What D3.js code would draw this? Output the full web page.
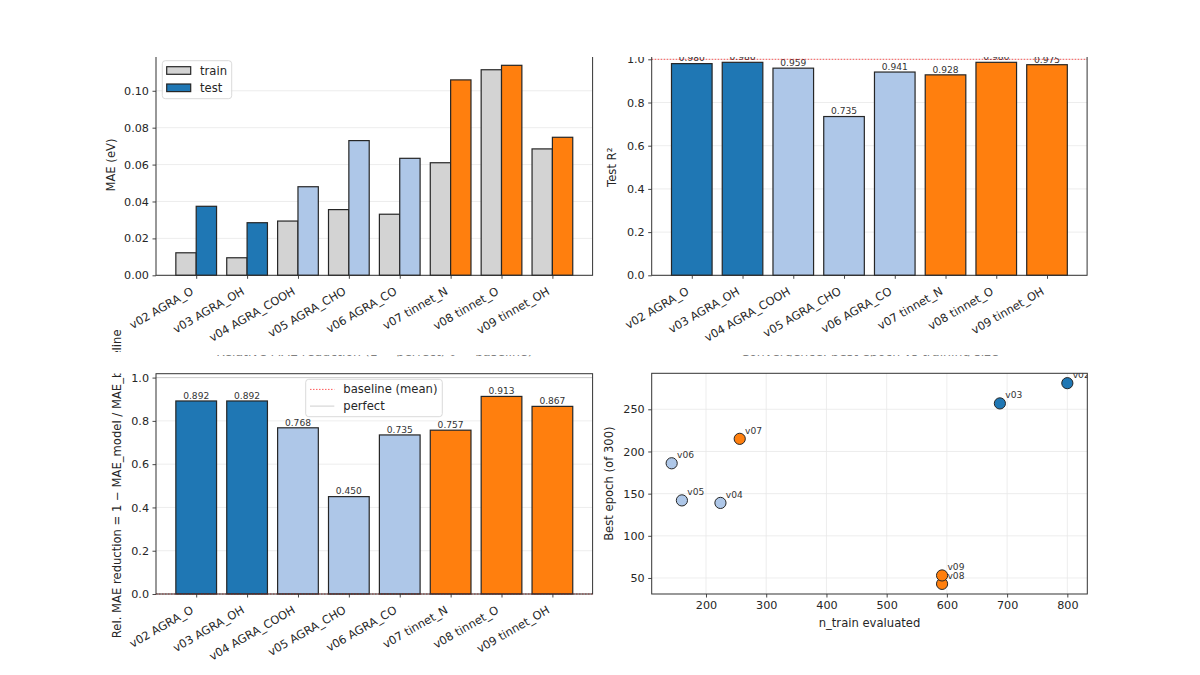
<!DOCTYPE html>
<html>
<head>
<meta charset="utf-8">
<script src="https://cdn.jsdelivr.net/npm/d3@7"></script>
<style>
body{margin:0;background:#fff;}
svg{display:block;}
text{font-family:"DejaVu Sans",sans-serif;}
</style>
</head>
<body>
<div id="fig"></div>
<script>
// data
var versions = ['v02','v03','v04','v05','v06','v07','v08','v09'];
var targets = ['AGRA_O','AGRA_OH','AGRA_COOH','AGRA_CHO','AGRA_CO','tinnet_N','tinnet_O','tinnet_OH'];
var groups = ['agra1','agra1','agra2','agra2','agra2','tinnet','tinnet','tinnet'];
var maeTrain = [0.0122,0.0095,0.0294,0.0356,0.0331,0.0610,0.1114,0.0685];
var maeTest = [0.0374,0.0285,0.0480,0.0730,0.0634,0.1059,0.1138,0.0748];
var r2Test = [0.980,0.986,0.959,0.735,0.941,0.928,0.986,0.975];
var relReduction = [0.892,0.892,0.768,0.450,0.735,0.757,0.913,0.867];
var nTrain = [800,688,224,160,143,256,592,592];
var bestEpoch = [281,257,139,142,186,215,43,53];

var maeTicks = [0,0.02,0.04,0.06,0.08,0.10];
var r2Ticks = [0,0.2,0.4,0.6,0.8,1.0];
var nTrainTicks = [200,300,400,500,600,700,800];
var epochTicks = [50,100,150,200,250];

var groupColor = {agra1:'#1f77b4', agra2:'#aec7e8', tinnet:'#ff7f0e'};
var trainColor = '#d3d3d3';
var edgeColor = '#262626';
var gridColor = '#e8e8e8';
var inkColor = '#262626';
var redDot = 'rgba(255,0,0,0.65)';
var labelSize = 11.6;

var W = 1200, H = 675;
var svg = d3.select('#fig').append('svg').attr('width', W).attr('height', H);
var defs = svg.append('defs');

var idx = d3.range(versions.length);
var tickLabels = idx.map(function(i){ return versions[i]+' '+targets[i]; });

// panels
var pMae = makePanel(156, 54.8, 436.6, 220.5);
var pR2 = makePanel(651.7, 48.5, 435.4, 226.8);
var pRel = makePanel(156, 373.7, 436.6, 220.3);
var pConv = makePanel(651.7, 373.3, 435.6, 220.7);

drawMaePanel(pMae);
drawR2Panel(pR2);
drawRelPanel(pRel);
drawConvPanel(pConv);

// the top strip of the figure is blank in the source image
drawRect(svg, 0, 0, W, 57, '#fff', 'topMask');


// user define function
function makePanel(x, y, w, h){
	var g = svg.append('g').attr('transform', 'translate('+x+','+y+')');
	return { g : g, x : x, y : y, w : w, h : h };
}

function indexScale(p){
	return d3.scaleLinear().domain([-0.79, 7.79]).range([0, p.w]);
}

function drawMaePanel(p){
	var x = indexScale(p);
	var y = d3.scaleLinear().domain([0, 0.1195]).range([p.h, 0]);

	drawGridY(p, y, maeTicks);

	for(var i=0; i<idx.length; i++){
		drawBar(p.g, x(i-0.4), y(maeTrain[i]), x(i)-x(i-0.4), p.h-y(maeTrain[i]), trainColor);
		drawBar(p.g, x(i), y(maeTest[i]), x(i+0.4)-x(i), p.h-y(maeTest[i]), groupColor[groups[i]]);
	}

	drawSpines(p);
	drawYAxis(p, y, maeTicks, d3.format('.2f'));
	drawXBarAxis(p, x);
	drawYLabel(p.g, -41, p.h/2, 'MAE (eV)');

	// legend
	var lg = p.g.append('g').attr('transform', 'translate(6.3,5.9)');
	drawRect(lg, 0, 0, 69.4, 38, 'rgba(255,255,255,0.8)', 'legendBox')
		.attr('stroke', '#d0d0d0').attr('stroke-width', 0.8).attr('rx', 3);
	drawBar(lg, 4.4, 6, 24, 7.6, trainColor);
	drawBar(lg, 4.4, 23.3, 24, 7.6, groupColor.agra1);
	drawText(lg, 37.7, 14, labelSize, inkColor, 'train', 'legendText');
	drawText(lg, 37.7, 31.4, labelSize, inkColor, 'test', 'legendText');
}

function drawR2Panel(p){
	var x = indexScale(p);
	var y = d3.scaleLinear().domain([0, 1.05]).range([p.h, 0]);

	drawGridY(p, y, r2Ticks);

	for(var i=0; i<idx.length; i++){
		drawBar(p.g, x(i-0.4), y(r2Test[i]), x(i+0.4)-x(i-0.4), p.h-y(r2Test[i]), groupColor[groups[i]]);
		drawText(p.g, x(i), y(r2Test[i])-2.2, 9.1, '#333', d3.format('.3f')(r2Test[i]), 'barValue')
			.attr('text-anchor', 'middle');
	}
	drawLine(p.g, 0, y(1), p.w, y(1), 1, redDot, 'perfectLine')
		.attr('stroke-dasharray', '1.5,1.5');

	drawSpines(p);
	drawYAxis(p, y, r2Ticks, d3.format('.1f'));
	drawXBarAxis(p, x);
	drawYLabel(p.g, -35.2, y(0.5), 'Test R²');
}

function drawRelPanel(p){
	var x = indexScale(p);
	var y = d3.scaleLinear().domain([0, 1.018]).range([p.h, 0]);

	drawGridY(p, y, r2Ticks);

	for(var i=0; i<idx.length; i++){
		drawBar(p.g, x(i-0.4), y(relReduction[i]), x(i+0.4)-x(i-0.4), p.h-y(relReduction[i]), groupColor[groups[i]]);
		drawText(p.g, x(i), y(relReduction[i])-2.2, 9.1, '#333', d3.format('.3f')(relReduction[i]), 'barValue')
			.attr('text-anchor', 'middle');
	}
	drawLine(p.g, 0, y(0), p.w, y(0), 1, redDot, 'baselineLine')
		.attr('stroke-dasharray', '1.5,1.5');
	drawLine(p.g, 0, y(1), p.w, y(1), 0.9, '#c8c8c8', 'perfectLine');

	drawSpines(p);
	drawYAxis(p, y, r2Ticks, d3.format('.1f'));
	drawXBarAxis(p, x);

	// long y label, its middle part is hidden in the source image
	var clipId = 'relLabelClip';
	var cp = defs.append('clipPath').attr('id', clipId);
	cp.append('rect').attr('x', -200).attr('y', -400).attr('width', 400).attr('height', 400 - (p.y-352));
	cp.append('rect').attr('x', -200).attr('y', -0.3).attr('width', 400).attr('height', 400);
	var lab = p.g.append('g').attr('clip-path', 'url(#'+clipId+')');
	drawYLabel(lab, -35, p.h/2, 'Rel. MAE reduction = 1 \u2212 MAE_model / MAE_baseline');

	drawClippedTitle(p, 'Relative MAE reduction (1 = perfect, 0 = baseline)', 'relTitleClip');

	// legend
	var lg = p.g.append('g').attr('transform', 'translate(149.7,5.6)');
	drawRect(lg, 0, 0, 136.6, 37.4, 'rgba(255,255,255,0.8)', 'legendBox')
		.attr('stroke', '#d0d0d0').attr('stroke-width', 0.8).attr('rx', 3);
	drawLine(lg, 4.3, 10.1, 28.6, 10.1, 1, redDot, 'legendLine')
		.attr('stroke-dasharray', '1.5,1.5');
	drawLine(lg, 4.3, 26.8, 28.6, 26.8, 0.9, '#c8c8c8', 'legendLine');
	drawText(lg, 37.6, 14.2, labelSize, inkColor, 'baseline (mean)', 'legendText');
	drawText(lg, 37.6, 31, labelSize, inkColor, 'perfect', 'legendText');
}

function drawConvPanel(p){
	var x = d3.scaleLinear().domain([109.85, 833.15]).range([0, p.w]);
	var y = d3.scaleLinear().domain([31, 292.7]).range([p.h, 0]);

	drawGridY(p, y, epochTicks);
	for(var t=0; t<nTrainTicks.length; t++){
		drawLine(p.g, x(nTrainTicks[t]), 0, x(nTrainTicks[t]), p.h, 0.8, gridColor, 'gridX');
	}

	var clipId = 'convClip';
	defs.append('clipPath').attr('id', clipId)
		.append('rect').attr('width', p.w).attr('height', p.h);
	var pts = p.g.append('g').attr('clip-path', 'url(#'+clipId+')');

	for(var i=0; i<idx.length; i++){
		pts.append('circle').attr('cx', x(nTrain[i])).attr('cy', y(bestEpoch[i])).attr('r', 5.6)
			.attr('fill', groupColor[groups[i]]).attr('stroke', edgeColor).attr('stroke-width', 1);
		drawText(pts, x(nTrain[i])+5.4, y(bestEpoch[i])-5, 9.1, '#333', versions[i], 'pointLabel');
	}

	drawSpines(p);
	drawYAxis(p, y, epochTicks, d3.format('d'));

	var ax = p.g.append('g').attr('transform', 'translate(0,'+p.h+')')
		.call(d3.axisBottom(x).tickValues(nTrainTicks).tickFormat(d3.format('d')).tickSize(3.5).tickPadding(3.5));
	styleAxis(ax);

	drawText(p.g, p.w/2, p.h+33.5, labelSize, inkColor, 'n_train evaluated', 'axisLabel').attr('text-anchor', 'middle');
	drawYLabel(p.g, -38.7, p.h/2, 'Best epoch (of 300)');

	drawClippedTitle(p, 'Convergence: best epoch vs training size', 'convTitleClip');
}

function drawClippedTitle(p, title, clipId){
	// only a thin strip at the bottom of the titles shows in the source image
	defs.append('clipPath').attr('id', clipId)
		.append('rect').attr('x', -100).attr('y', 355.3 - p.y).attr('width', p.w+200).attr('height', 1);
	drawText(p.g, p.w/2, 356.3 - p.y, 12.5, '#555', title, 'title')
		.attr('text-anchor', 'middle').attr('clip-path', 'url(#'+clipId+')');
}

function drawGridY(p, y, ticks){
	for(var i=0; i<ticks.length; i++){
		drawLine(p.g, 0, y(ticks[i]), p.w, y(ticks[i]), 0.8, gridColor, 'gridY');
	}
}

function drawSpines(p){
	drawRect(p.g, 0, 0, p.w, p.h, 'none', 'spines')
		.attr('stroke', '#333').attr('stroke-width', 1);
}

function drawYAxis(p, y, ticks, fmt){
	var ax = p.g.append('g')
		.call(d3.axisLeft(y).tickValues(ticks).tickFormat(fmt).tickSize(3.5).tickPadding(3.5));
	styleAxis(ax);
	return ax;
}

function drawXBarAxis(p, x){
	var ax = p.g.append('g').attr('transform', 'translate(0,'+p.h+')')
		.call(d3.axisBottom(x).tickValues(idx).tickFormat(function(i){ return tickLabels[i]; })
			.tickSize(3.5).tickPadding(3.5));
	styleAxis(ax);
	ax.selectAll('text')
		.attr('y', null).attr('dy', null)
		.attr('font-size', 11.4)
		.attr('text-anchor', 'end')
		.attr('transform', 'translate(-2.5,18.3) rotate(-30)');
	return ax;
}

function styleAxis(ax){
	ax.attr('font-family', '"DejaVu Sans",sans-serif').attr('font-size', 11.2);
	ax.select('.domain').remove();
	ax.selectAll('line').attr('stroke', '#333').attr('stroke-width', 0.9);
	ax.selectAll('text').attr('fill', inkColor);
}

function drawYLabel(g, x, y, text){
	return drawText(g, x, y, labelSize, inkColor, text, 'axisLabel')
		.attr('text-anchor', 'middle')
		.attr('transform', 'rotate(-90,'+x+','+y+')');
}

function drawBar(g, x, y, w, h, fill){
	return drawRect(g, x, y, w, h, fill, 'bar')
		.attr('stroke', edgeColor).attr('stroke-width', 1.2);
}

function drawRect(g, x, y, w, h, fill, cls){
	return g.append('rect').attr('x', x).attr('y', y).attr('width', w).attr('height', h)
		.attr('fill', fill).attr('class', cls);
}

function drawText(g, x, y, size, fill, text, cls){
	return g.append('text').attr('x', x).attr('y', y).attr('font-size', size)
		.attr('fill', fill).attr('class', cls).text(text);
}

function drawLine(g, x1, y1, x2, y2, w, color, cls){
	return g.append('line').attr('x1', x1).attr('y1', y1).attr('x2', x2).attr('y2', y2)
		.attr('stroke', color).attr('stroke-width', w).attr('class', cls);
}
</script>
</body>
</html>
